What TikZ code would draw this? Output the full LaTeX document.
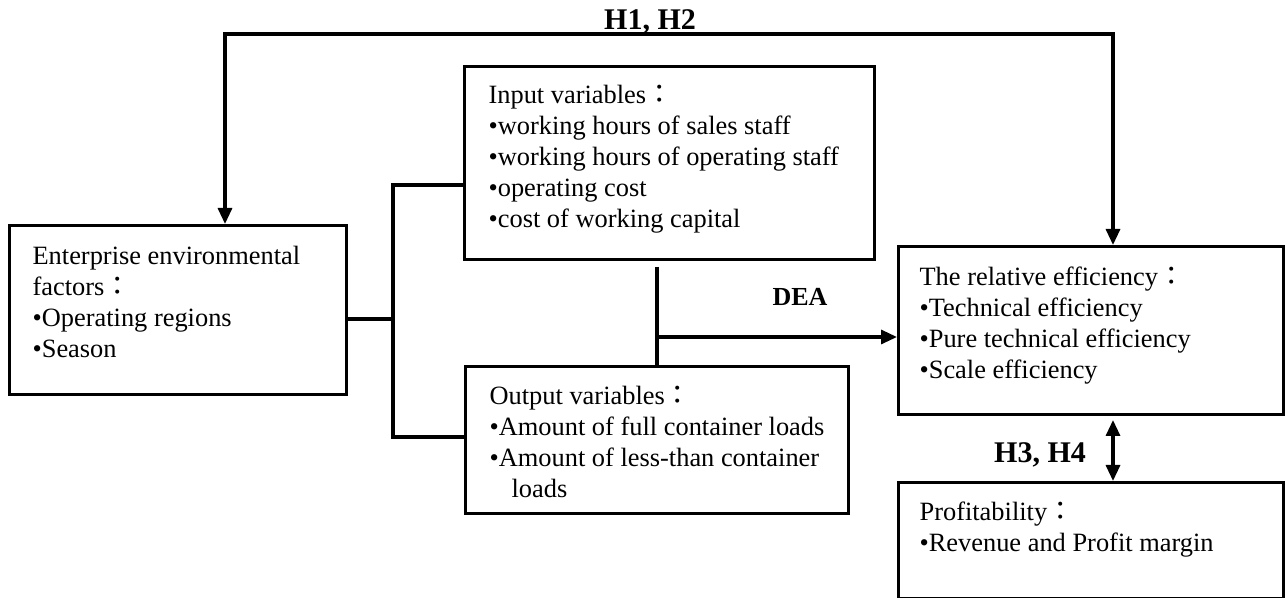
\documentclass[tikz,border=0pt]{standalone}
\usepackage{fontspec}
\setmainfont{Liberation Serif}
\newfontfamily\cjk{Noto Sans CJK TC}
\usetikzlibrary{arrows.meta}
\newcommand{\fwc}{{\cjk ：}}

\begin{document}
\begin{tikzpicture}[x=0.5pt,y=-0.5pt,line width=1.6pt,
  box/.style={draw,line width=1.6pt,inner sep=0pt,anchor=north west},
  txt/.style={anchor=north west,inner sep=0pt,align=left,font=\fontsize{13.2}{15.5}\selectfont},
  lab/.style={font=\bfseries\fontsize{15}{18}\selectfont},
  >={Triangle[width=7pt,length=8pt]}]
\useasboundingbox (0,0) rectangle (1287,598);
% boxes
\node[box,minimum width=168.5pt,minimum height=84.5pt] (a) at (8,224) {};
\node[box,minimum width=205pt,minimum height=96.5pt] (b) at (463,65) {};
\node[box,minimum width=191.5pt,minimum height=73.5pt] (c) at (464,365) {};
\node[box,minimum width=192.5pt,minimum height=84pt] (d) at (897,245) {};
\node[box,minimum width=192.5pt,minimum height=58pt] (e) at (897,481) {};
% texts
\node[txt] (at) at ([shift={(23,21)}]a.north west) {Enterprise environmental\\factors\fwc\\•Operating regions\\•Season};
\node[txt] (bt) at ([shift={(24,19)}]b.north west) {Input variables\fwc\\•working hours of sales staff\\•working hours of operating staff\\•operating cost\\•cost of working capital};
\node[txt] (ct) at ([shift={(24,20)}]c.north west) {Output variables\fwc\\•Amount of full container loads\\•Amount of less-than container\\\hspace*{11pt}loads};
\node[txt] (dt) at ([shift={(21,20)}]d.north west) {The relative efficiency\fwc\\•Technical efficiency\\•Pure technical efficiency\\•Scale efficiency};
\node[txt] (et) at ([shift={(21,19)}]e.north west) {Profitability\fwc\\•Revenue and Profit margin};
% labels
\node[lab] (h12) at (650,22) {H1, H2};
\node[lab] (h34) at (1040,455) {H3, H4};
\node[font=\bfseries\fontsize{13}{15}\selectfont] (dea) at (800,297) {DEA};
% H1, H2 link
\coordinate (l) at (225,34);
\coordinate (r) at (1113,34);
\draw[<->] (l |- a.north) -- (l) -- (r) -- (r |- d.north);
% bracket
\coordinate (k1) at (393,185);
\coordinate (k2) at (393,437);
\coordinate (km) at (393,319);
\draw (b.west |- k1) -- (k1) -- (k2) -- (c.west |- k2);
\draw (km -| a.east) -- (km);
% DEA
\coordinate (v1) at (657,267);
\coordinate (v2) at (657,337);
\draw (v1) -- (v1 |- c.north);
\draw[->] (v2) -- (v2 -| d.west);
% H3, H4 link
\coordinate (h) at (1113,420);
\draw[<->] (h) -- (h |- e.north);
\end{tikzpicture}
\end{document}
